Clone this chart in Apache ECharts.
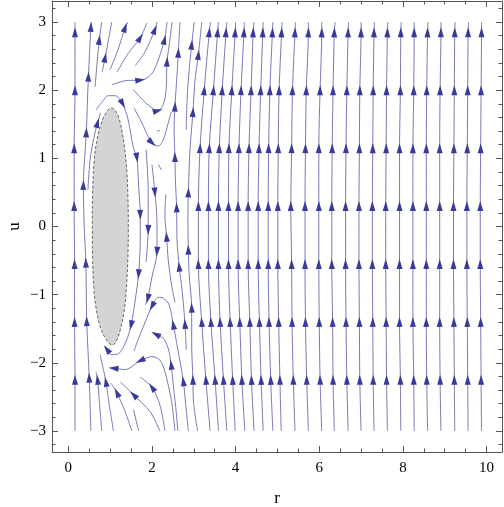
<!DOCTYPE html>
<html><head><meta charset="utf-8">
<script src="https://cdn.jsdelivr.net/npm/echarts@6/dist/echarts.min.js"></script>
<style>html,body{margin:0;padding:0;background:#fff}#c{width:504px;height:507px}</style>
</head><body><div id="c"></div>
<script>
// ---- data ----
const xTickLabels = [0, 2, 4, 6, 8, 10];
const yTickLabels = [-3, -2, -1, 0, 1, 2, 3];

// near-vertical stream columns: r values at these u levels (bottom -> top)
const colU = [-3, -2.25, -1.4, -0.55, 0.3, 1.15, 2.0, 2.85, 3];
const colR = [
 [0.16,0.16,0.15,0.15,0.14,0.14,0.16,0.16,0.16],
 [3.39,3.29,3.19,3.11,3.11,3.15,3.25,3.37,3.40],
 [3.59,3.51,3.41,3.35,3.35,3.37,3.47,3.57,3.59],
 [3.79,3.71,3.63,3.59,3.59,3.61,3.68,3.77,3.79],
 [3.99,3.93,3.87,3.83,3.83,3.84,3.91,3.99,4.00],
 [4.22,4.15,4.10,4.06,4.06,4.08,4.13,4.20,4.21],
 [4.44,4.38,4.34,4.30,4.30,4.32,4.37,4.42,4.44],
 [4.66,4.61,4.57,4.54,4.54,4.56,4.60,4.65,4.66],
 [4.89,4.84,4.80,4.78,4.78,4.79,4.82,4.88,4.89],
 [5.09,5.06,5.03,5.01,5.01,5.02,5.04,5.10,5.11],
 [5.42,5.38,5.35,5.34,5.32,5.34,5.36,5.42,5.43],
 [5.74,5.70,5.67,5.66,5.66,5.67,5.69,5.74,5.74],
 [6.06,6.02,6.00,5.99,5.99,5.99,6.02,6.06,6.06],
 [6.36,6.33,6.32,6.30,6.30,6.31,6.33,6.36,6.38],
 [6.69,6.66,6.64,6.63,6.63,6.64,6.66,6.69,6.70],
 [7.00,6.97,6.96,6.95,6.95,6.96,6.97,7.00,7.00],
 [7.31,7.29,7.28,7.27,7.27,7.28,7.29,7.31,7.32],
 [7.63,7.61,7.60,7.59,7.59,7.60,7.61,7.63,7.64],
 [7.95,7.94,7.92,7.92,7.92,7.92,7.94,7.95,7.96],
 [8.27,8.26,8.24,8.24,8.24,8.24,8.26,8.27,8.27],
 [8.59,8.57,8.56,8.56,8.56,8.56,8.57,8.59,8.60],
 [8.91,8.89,8.88,8.88,8.88,8.88,8.89,8.91,8.91],
 [9.24,9.23,9.22,9.21,9.21,9.22,9.23,9.24,9.25],
 [9.56,9.55,9.54,9.53,9.53,9.54,9.55,9.56,9.57],
 [9.88,9.87,9.86,9.85,9.85,9.86,9.87,9.88,9.88]
];

// curved streamlines [r, u, arrowFlag], in flow order
const streams = [
 [[0.54,-3.0],[0.50,-2.22,1],[0.44,-1.39,1],[0.42,-0.53,1],[0.38,0.01],[0.36,0.61,1],[0.43,1.38,1],[0.48,2.20,1],[0.54,2.93,1],[0.55,3.0]],
 [[0.47,0.54],[0.52,0.98],[0.61,1.30],[0.70,1.52,1],[0.77,1.67]],
 [[0.64,2.05],[0.69,2.42],[0.74,2.74,1],[0.80,3.0]],
 [[0.81,2.27],[0.88,2.48,1],[0.96,2.74],[1.04,3.0]],
 [[1.00,2.30],[1.19,2.60],[1.36,2.92,1],[1.42,3.0]],
 [[1.17,2.27],[1.43,2.54],[1.72,2.77,1],[1.88,2.99]],
 [[1.60,2.36],[1.84,2.57],[2.07,2.89,1],[2.12,3.0]],
 [[1.04,2.08],[1.36,2.14],[1.72,2.15,1],[1.88,2.18],[2.03,2.27],[2.17,2.48],[2.30,2.74,1],[2.36,3.0]],
 [[1.55,2.01],[1.84,1.82],[2.00,1.74],[2.14,1.70,1],[2.27,1.79],[2.34,2.01],[2.36,2.42,1],[2.43,2.74],[2.48,3.0]],
 [[1.57,1.74],[1.76,1.52],[1.91,1.32],[2.00,1.23,1],[2.15,1.18],[2.27,1.27],[2.39,1.52],[2.46,1.68]],
 [[0.66,1.71],[0.80,1.82],[0.95,1.92],[1.12,1.92],[1.30,1.80,1],[1.43,1.57],[1.55,1.17],[1.64,1.01,1],[1.68,0.61],[1.72,0.17,1],[1.72,-0.20],[1.68,-0.70,1],[1.60,-1.08],[1.50,-1.45,1],[1.38,-1.69],[1.19,-1.87],[1.02,-1.88],[0.92,-1.80,1]],
 [[1.86,1.13],[1.91,0.54],[1.91,-0.05,1],[1.86,-0.52]],
 [[2.00,0.91],[2.07,0.50,1],[2.12,0.07],[2.12,-0.37,1],[2.00,-0.74],[1.90,-1.06,1],[1.84,-1.15]],
 [[2.55,-1.11],[2.47,-0.86],[2.39,-0.49],[2.35,-0.15,1],[2.31,0.17],[2.33,0.47]],
 [[2.82,-1.81],[2.79,-1.43,1],[2.72,-0.93],[2.65,-0.59,1],[2.60,-0.20],[2.59,0.28,1],[2.56,0.69],[2.55,1.02,1],[2.53,1.42],[2.55,1.76,1],[2.60,2.23],[2.63,2.55,1],[2.67,3.0]],
 [[2.82,1.42],[2.84,1.86],[2.89,2.30],[2.95,2.67,1],[3.01,3.0]],
 [[3.09,-3.0],[2.99,-2.55],[2.98,-2.25,1],[2.95,-1.74],[2.95,-1.19,1],[2.89,-0.71],[2.87,-0.34,1],[2.86,0.10],[2.87,0.50,1],[2.91,1.13],[2.98,1.68,1],[3.03,2.15],[3.11,2.52,1],[3.19,3.0]],
 [[0.80,-3.0],[0.74,-2.55],[0.70,-2.25,1],[0.66,-2.13]],
 [[1.08,-3.0],[0.98,-2.62],[0.90,-2.28,1],[0.76,-1.88]],
 [[1.52,-3.0],[1.36,-2.72],[1.16,-2.44,1],[1.02,-2.30]],
 [[1.68,-3.0],[1.56,-2.69]],
 [[2.19,-3.0],[1.96,-2.72],[1.56,-2.47,1],[1.24,-2.28]],
 [[2.31,-3.0],[2.19,-2.62],[2.00,-2.36,1],[1.72,-2.21]],
 [[2.55,-3.0],[2.47,-2.57],[2.39,-2.33],[2.31,-2.13],[2.19,-1.96],[2.00,-1.91],[1.72,-1.97,1],[1.36,-2.10],[1.08,-2.08,1]],
 [[2.62,-3.0],[2.57,-2.66],[2.51,-2.33],[2.46,-2.03,1],[2.39,-1.79],[2.27,-1.64],[2.09,-1.58,1]],
 [[2.87,-3.0],[2.82,-2.69],[2.75,-2.27,1],[2.62,-1.81],[2.51,-1.44,1],[2.41,-1.15],[2.27,-1.05],[2.15,-1.04],[2.00,-1.17,1],[1.84,-1.40],[1.67,-1.66],[1.57,-1.83]],
 [[2.12,1.40],[2.19,1.41]],
 [[2.15,0.91],[2.23,0.83]]
];

// grey excluded region boundary
const region = [[1.03,1.74],[1.15,1.68],[1.25,1.50],[1.33,1.22],[1.39,0.90],[1.425,0.45],[1.435,0],[1.425,-0.45],[1.39,-0.90],[1.34,-1.22],[1.25,-1.50],[1.15,-1.68],[1.05,-1.74],[0.93,-1.68],[0.79,-1.52],[0.67,-1.22],[0.61,-0.90],[0.58,-0.45],[0.575,0],[0.58,0.45],[0.61,0.90],[0.67,1.22],[0.78,1.50],[0.91,1.68]];

// ---- chart ----
const X_MIN = -0.39, X_MAX = 10.37, Y_MIN = -3.31, Y_MAX = 3.31;
const xMinor = [], yMinor = [];
for (let v = 0.5; v < 10; v += 0.5) if (Math.abs(v / 2 - Math.round(v / 2)) > 1e-6) xMinor.push(+v.toFixed(2));
for (let v = -3.2; v <= 3.21; v += 0.2) if (Math.abs(v - Math.round(v)) > 1e-6) yMinor.push(+v.toFixed(2));

const FONT = 'Liberation Serif';
const frame = { color: '#555', width: 1 };
const lineColor = '#6a6ab2';
const arrowColor = '#3a3a9a';

function mkX(pos, ticks, len, showLine, labels) {
  const a = {
    type: 'value', position: pos, min: X_MIN, max: X_MAX,
    axisLine: { show: showLine, onZero: false, lineStyle: frame },
    axisTick: { show: true, inside: true, length: len, customValues: ticks, lineStyle: frame },
    axisLabel: { show: false },
    splitLine: { show: false }
  };
  if (labels) {
    a.axisLabel = { show: true, customValues: ticks, margin: 9, fontFamily: FONT, fontSize: 15, color: '#000',
      formatter: v => String(v).replace('-', '\u2212') };
    a.name = 'r'; a.nameLocation = 'middle'; a.nameGap = 38;
    a.nameTextStyle = { fontFamily: FONT, fontSize: 17, color: '#000' };
  }
  return a;
}
function mkY(pos, ticks, len, showLine, labels) {
  const a = {
    type: 'value', position: pos, min: Y_MIN, max: Y_MAX,
    axisLine: { show: showLine, onZero: false, lineStyle: frame },
    axisTick: { show: true, inside: true, length: len, customValues: ticks, lineStyle: frame },
    axisLabel: { show: false },
    splitLine: { show: false }
  };
  if (labels) {
    a.axisLabel = { show: true, customValues: ticks, margin: 6, fontFamily: FONT, fontSize: 15, color: '#000',
      formatter: v => String(v).replace('-', '\u2212') };
    a.name = 'u'; a.nameLocation = 'middle'; a.nameGap = 29; a.nameMoveOverlap = false;
    a.nameTextStyle = { fontFamily: FONT, fontSize: 17, color: '#000' };
  }
  return a;
}

const allLines = [];
colR.forEach(rs => allLines.push(rs.map((r, i) => [r, colU[i], (i > 0 && i < colU.length - 1) ? 1 : 0])));
streams.forEach(s => allLines.push(s));

const series = allLines.map(pts => ({
  type: 'line', xAxisIndex: 0, yAxisIndex: 0,
  data: pts.map(p => [p[0], p[1]]),
  showSymbol: false, symbol: 'none', smooth: 0.3, silent: true, z: 2,
  lineStyle: { color: lineColor, width: 0.9 }
}));
series.push({
  type: 'custom', xAxisIndex: 0, yAxisIndex: 0, z: 3, silent: true,
  data: [[1, 0]],
  renderItem: (params, api) => ({
    type: 'polygon',
    shape: { points: region.map(p => api.coord(p)), smooth: 0.35 },
    style: { fill: '#d4d4d4', stroke: '#444', lineWidth: 0.8, lineDash: [3, 2] }
  })
});
series.push({
  id: 'arrows', type: 'scatter', xAxisIndex: 0, yAxisIndex: 0, z: 4, silent: true,
  symbol: 'triangle', symbolSize: [6, 10],
  itemStyle: { color: arrowColor, opacity: 1 },
  data: []
});

const option = {
  animation: false,
  backgroundColor: '#fff',
  grid: { left: 52, right: 2, top: 1, bottom: 55, containLabel: false, outerBoundsMode: 'none' },
  xAxis: [mkX('bottom', xTickLabels, 6, true, true), mkX('bottom', xMinor, 3.5, false, false),
          mkX('top', xTickLabels, 6, true, false), mkX('top', xMinor, 3.5, false, false)],
  yAxis: [mkY('left', yTickLabels, 6, true, true), mkY('left', yMinor, 3.5, false, false),
          mkY('right', yTickLabels, 6, true, false), mkY('right', yMinor, 3.5, false, false)],
  series: series
};

const chart = echarts.init(document.getElementById('c'), null, { renderer: 'canvas' });
chart.setOption(option);

const arrowData = [];
allLines.forEach(pts => {
  pts.forEach((p, i) => {
    if (!p[2]) return;
    const a = pts[Math.max(i - 1, 0)], b = pts[Math.min(i + 1, pts.length - 1)];
    const pa = chart.convertToPixel({ xAxisIndex: 0, yAxisIndex: 0 }, [a[0], a[1]]);
    const pb = chart.convertToPixel({ xAxisIndex: 0, yAxisIndex: 0 }, [b[0], b[1]]);
    const ang = Math.atan2(-(pb[0] - pa[0]), -(pb[1] - pa[1])) * 180 / Math.PI;
    arrowData.push({ value: [p[0], p[1]], symbolRotate: ang });
  });
});
chart.setOption({ series: [{ id: 'arrows', data: arrowData }] });
</script></body></html>
